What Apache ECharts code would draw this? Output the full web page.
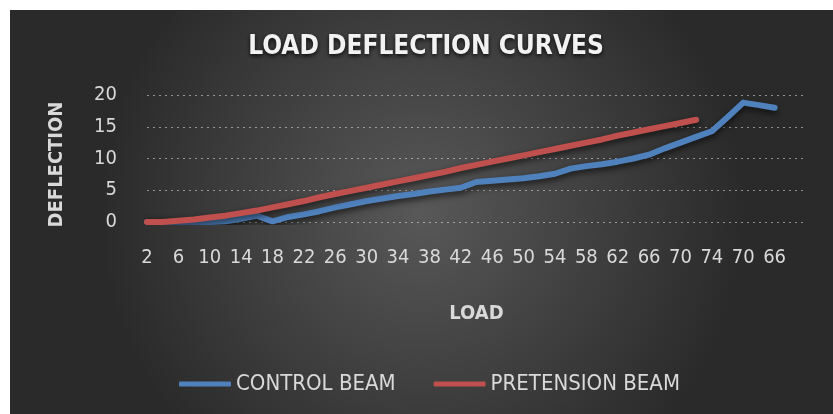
<!DOCTYPE html>
<html>
<head>
<meta charset="utf-8">
<script src="https://cdn.jsdelivr.net/npm/echarts@6/dist/echarts.min.js"></script>
<style>
  html, body { margin: 0; padding: 0; background: #ffffff; }
  #chart { width: 833px; height: 414px; }
</style>
</head>
<body>
<div id="chart"></div>
<script>
// load values on the category axis (loading up to 74, then unloading)
let loadData = ['2', '4', '6', '8', '10', '12', '14', '16', '18', '20',
    '22', '24', '26', '28', '30', '32', '34', '36', '38', '40',
    '42', '44', '46', '48', '50', '52', '54', '56', '58', '60',
    '62', '64', '66', '68', '70', '72', '74', '72', '70', '68', '66'];

let controlBeamData = [0, 0, 0, 0, 0, 0.1, 0.5, 1.0, 0.1, 0.8,
    1.2, 1.7, 2.3, 2.8, 3.3, 3.7, 4.1, 4.4, 4.8, 5.1,
    5.4, 6.3, 6.5, 6.7, 6.9, 7.2, 7.6, 8.4, 8.8, 9.1,
    9.5, 10.0, 10.6, 11.6, 12.5, 13.4, 14.3, 16.5, 18.8, 18.4, 18.0];

let pretensionBeamData = [0, 0, 0.2, 0.4, 0.7, 1.0, 1.4, 1.8, 2.3, 2.8,
    3.3, 3.9, 4.4, 4.9, 5.4, 5.9, 6.4, 6.9, 7.4, 7.9,
    8.5, 9.0, 9.5, 10.0, 10.5, 11.0, 11.5, 12.0, 12.5, 13.0,
    13.6, 14.1, 14.6, 15.1, 15.6, 16.1];

let seriesNames = ['CONTROL BEAM', 'PRETENSION BEAM'];
let yTicks = [0, 5, 10, 15, 20];

let condFont = "'DejaVu Sans Condensed', sans-serif";
let textColor = '#d9d9d9';

let bgFill = new echarts.graphic.RadialGradient(0.5, 0.5, 0.8, [
    { offset: 0, color: '#585858' },
    { offset: 1, color: '#2a2a2a' }
]);

function lineSeries(name, data, color) {
    return {
        name: name,
        type: 'line',
        data: data,
        symbol: 'none',
        smooth: false,
        lineStyle: {
            width: 6,
            color: color,
            cap: 'round',
            join: 'round',
            shadowColor: 'rgba(0,0,0,0.65)',
            shadowBlur: 6,
            shadowOffsetY: 3
        },
        itemStyle: { color: color }
    };
}

let chart = echarts.init(document.getElementById('chart'));
let option = {
    animation: false,
    graphic: [{
            type: 'rect',
            z: -10,
            shape: { x: 10, y: 10, width: 823, height: 404 },
            style: { fill: bgFill }
        },
        {
            type: 'text',
            x: 426,
            y: 47,
            style: {
                text: 'LOAD DEFLECTION CURVES',
                fill: '#f2f2f2',
                font: "bold 26px " + condFont,
                align: 'center',
                verticalAlign: 'middle',
                textShadowColor: 'rgba(0,0,0,0.8)',
                textShadowBlur: 4,
                textShadowOffsetY: 2
            }
        }
    ],
    legend: {
        data: seriesNames,
        left: 174,
        top: 368,
        icon: 'roundRect',
        itemWidth: 52,
        itemHeight: 5,
        itemGap: 38,
        textStyle: {
            color: textColor,
            fontSize: 22,
            fontFamily: condFont
        }
    },
    grid: {
        left: 147,
        right: 27,
        top: 95,
        bottom: 192,
        containLabel: false
    },
    xAxis: {
        type: 'category',
        data: loadData,
        boundaryGap: false,
        max: 42,
        name: 'LOAD',
        nameLocation: 'middle',
        nameGap: 82,
        nameTextStyle: {
            color: textColor,
            fontSize: 20,
            fontWeight: 'bold',
            fontFamily: condFont
        },
        axisLine: { show: false },
        axisTick: { show: false },
        splitLine: { show: false },
        axisLabel: {
            interval: 1,
            margin: 26,
            color: textColor,
            fontSize: 20,
            fontFamily: condFont
        }
    },
    yAxis: {
        type: 'value',
        min: 0,
        max: 20,
        interval: 5,
        name: 'DEFLECTION',
        nameLocation: 'middle',
        nameRotate: 90,
        nameGap: 80,
        nameTextStyle: {
            color: textColor,
            fontSize: 20,
            fontWeight: 'bold',
            fontFamily: condFont,
            padding: [0, 0, 0, -12]
        },
        axisLine: { show: false },
        axisTick: { show: false },
        axisLabel: {
            margin: 30,
            color: textColor,
            fontSize: 20,
            fontFamily: condFont,
            formatter: function (v) {
                return yTicks.indexOf(v) >= 0 ? String(v) : '';
            }
        },
        splitLine: {
            show: true,
            lineStyle: {
                color: 'rgba(230,230,230,0.55)',
                width: 1,
                type: [2, 4]
            }
        }
    },
    series: [
        lineSeries(seriesNames[0], controlBeamData, '#4f81bd'),
        lineSeries(seriesNames[1], pretensionBeamData, '#c0504d')
    ]
};
chart.setOption(option);
</script>
</body>
</html>
